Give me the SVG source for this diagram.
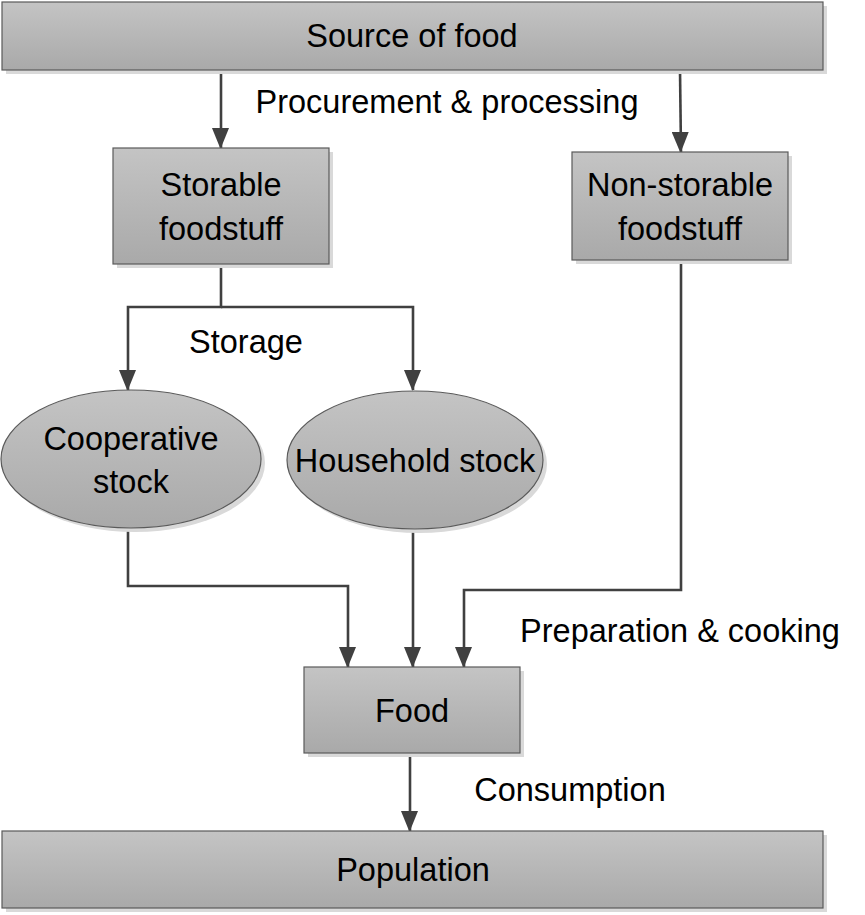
<svg xmlns="http://www.w3.org/2000/svg" width="865" height="915" viewBox="0 0 865 915">
<style>
.box{fill:url(#g);stroke:#5a5a5a;stroke-width:1.2}
.sh{fill:#d9d9d9}
.t{font-family:"Liberation Sans",Arial,sans-serif;font-size:32.5px;fill:#000;text-anchor:middle}
.c{fill:none;stroke:#404040;stroke-width:2.6;marker-end:url(#a)}
</style>
<defs>
<linearGradient id="g" x1="0" y1="0" x2="0" y2="1">
<stop offset="0" stop-color="#c4c4c4"/>
<stop offset="1" stop-color="#a9a9a9"/>
</linearGradient>
<marker id="a" markerWidth="21" markerHeight="17" refX="20" refY="8" orient="auto" markerUnits="userSpaceOnUse" viewBox="0 0 21 17">
<path d="M0,0 L21,8.5 L0,17 Z" fill="#404040"/>
</marker>
</defs>
<rect width="865" height="915" fill="#fff"/>
<g id="connectors">
<line class="c" x1="221" y1="70" x2="221" y2="148"/>
<line class="c" x1="680" y1="70" x2="681" y2="152"/>
<polyline class="c" points="221,264 221,307 128,307 128,390"/>
<polyline class="c" points="221,307 413,307 413,390"/>
<polyline class="c" points="128,529 128,586 348,586 348,667"/>
<line class="c" x1="413" y1="529" x2="413" y2="667"/>
<polyline class="c" points="681,260 681,590 464,590 464,667"/>
<line class="c" x1="410" y1="753" x2="410" y2="831"/>
</g>
<g id="source">
<rect class="sh" x="6" y="6" width="821" height="68"/>
<rect class="box" x="2" y="2" width="821" height="68"/>
<text class="t" x="412" y="47">Source of food</text>
</g>
<text class="t" x="447" y="113">Procurement &amp; processing</text>
<g id="storable">
<rect class="sh" x="117" y="152" width="216" height="116"/>
<rect class="box" x="113" y="148" width="216" height="116"/>
<text class="t" x="221" y="196">Storable</text>
<text class="t" x="221" y="240">foodstuff</text>
</g>
<g id="nonstorable">
<rect class="sh" x="576" y="156" width="216" height="108"/>
<rect class="box" x="572" y="152" width="216" height="108"/>
<text class="t" x="680" y="196">Non-storable</text>
<text class="t" x="680" y="240">foodstuff</text>
</g>
<text class="t" x="246" y="353">Storage</text>
<g id="cooperative">
<ellipse class="sh" cx="135" cy="463" rx="130" ry="69"/>
<ellipse class="box" cx="131" cy="459" rx="130" ry="69"/>
<text class="t" x="131" y="450">Cooperative</text>
<text class="t" x="131" y="493">stock</text>
</g>
<g id="household">
<ellipse class="sh" cx="419" cy="464" rx="128" ry="69"/>
<ellipse class="box" cx="415" cy="460" rx="128" ry="69"/>
<text class="t" x="415" y="472">Household stock</text>
</g>
<text class="t" x="680" y="642">Preparation &amp; cooking</text>
<g id="food">
<rect class="sh" x="308" y="671" width="216" height="86"/>
<rect class="box" x="304" y="667" width="216" height="86"/>
<text class="t" x="412" y="722">Food</text>
</g>
<text class="t" x="570" y="801">Consumption</text>
<g id="population">
<rect class="sh" x="6" y="835" width="821" height="77"/>
<rect class="box" x="2" y="831" width="821" height="77"/>
<text class="t" x="413" y="881">Population</text>
</g>
</svg>
